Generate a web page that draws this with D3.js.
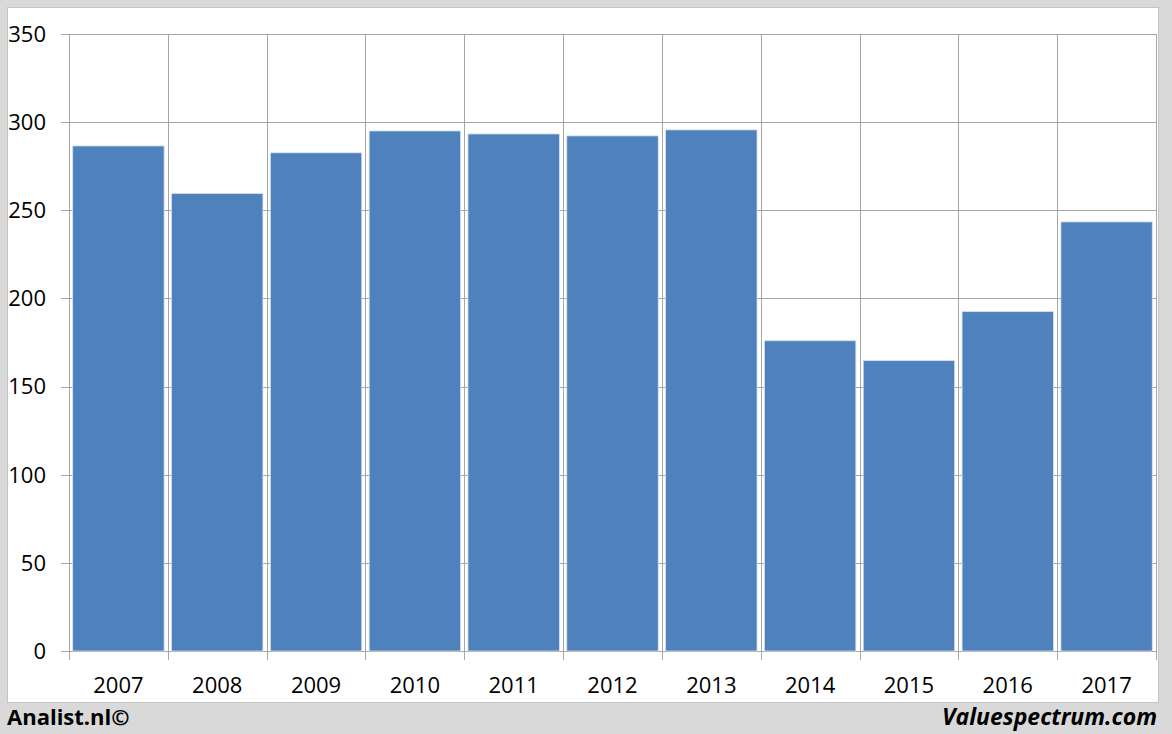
<!DOCTYPE html>
<html><head><meta charset="utf-8">
<script src="https://cdn.jsdelivr.net/npm/d3@7"></script>
<style>
html,body{margin:0;padding:0;background:#d9d9d9;}
svg{display:block;}
</style></head>
<body>
<svg id="chart" width="1172" height="734"></svg>
<script>
const years = ["2007","2008","2009","2010","2011","2012","2013","2014","2015","2016","2017"];
const values = [286.5, 259.5, 282.6, 295, 293.3, 292.2, 295.6, 176, 164.7, 192.5, 243.4];
const yTicks = [0, 50, 100, 150, 200, 250, 300, 350];
const leftCredit = "Analist.nl©";
const rightCredit = "Valuespectrum.com";

const svg = d3.select("#chart");
const W = 1172, H = 734;
const m = {left: 69, right: 1156, top: 34, bottom: 651};
const font = "'Open Sans', 'Liberation Sans', sans-serif";
const gridColor = "#a6a6a6";

svg.append("rect").attr("x",0).attr("y",0).attr("width",W).attr("height",H).attr("fill","#d9d9d9");
svg.append("rect").attr("x",7.5).attr("y",7.5).attr("width",1151).attr("height",695)
  .attr("fill","#ffffff").attr("stroke","#c4c4c4").attr("stroke-width",1);

const x = d3.scaleBand().domain(years).range([m.left, m.right]).paddingInner(0.075).paddingOuter(0.0375);
const xb = d3.scaleBand().domain(years).range([m.left, m.right]).padding(0);
const y = d3.scaleLinear().domain([0, 350]).range([m.bottom, m.top]);

// horizontal grid
svg.append("g").selectAll("line").data(yTicks).join("line")
  .attr("x1", m.left - 8).attr("x2", m.right)
  .attr("y1", d => Math.round(y(d)) + 0.5).attr("y2", d => Math.round(y(d)) + 0.5)
  .attr("stroke", gridColor).attr("stroke-width", 1);

// vertical grid at category boundaries
const bounds = years.map(d => xb(d)).concat([m.right]);
svg.append("g").selectAll("line").data(bounds).join("line")
  .attr("x1", d => Math.round(d) + 0.5).attr("x2", d => Math.round(d) + 0.5)
  .attr("y1", m.top).attr("y2", m.bottom + 9)
  .attr("stroke", gridColor).attr("stroke-width", 1);

// bars
svg.append("g").selectAll("rect").data(years).join("rect")
  .attr("x", (d) => x(d))
  .attr("width", x.bandwidth())
  .attr("y", (d,i) => y(values[i]))
  .attr("height", (d,i) => y(0) - y(values[i]))
  .attr("fill", "#4f81bd")
  .attr("stroke", "#d6e0ee").attr("stroke-width", 0.8);

// y labels
svg.append("g").selectAll("text").data(yTicks).join("text")
  .attr("x", 46).attr("y", d => y(d))
  .attr("dy", "0.36em")
  .attr("text-anchor", "end")
  .attr("font-family", font).attr("font-size", 22).attr("fill", "#000")
  .text(d => d);

// x labels
svg.append("g").selectAll("text").data(years).join("text")
  .attr("x", d => xb(d) + xb.bandwidth()/2).attr("y", 685)
  .attr("dy", "0.36em")
  .attr("text-anchor", "middle")
  .attr("font-family", font).attr("font-size", 22).attr("fill", "#000")
  .text(d => d);

// credits
svg.append("text").attr("x", 7).attr("y", 725)
  .attr("font-family", font).attr("font-size", 22).attr("font-weight", "bold").attr("fill", "#000")
  .text(leftCredit);
svg.append("text").attr("x", 1157).attr("y", 725)
  .attr("text-anchor", "end")
  .attr("font-family", font).attr("font-size", 23).attr("font-weight", "bold").attr("font-style", "italic").attr("fill", "#000")
  .text(rightCredit);
</script>
</body></html>
